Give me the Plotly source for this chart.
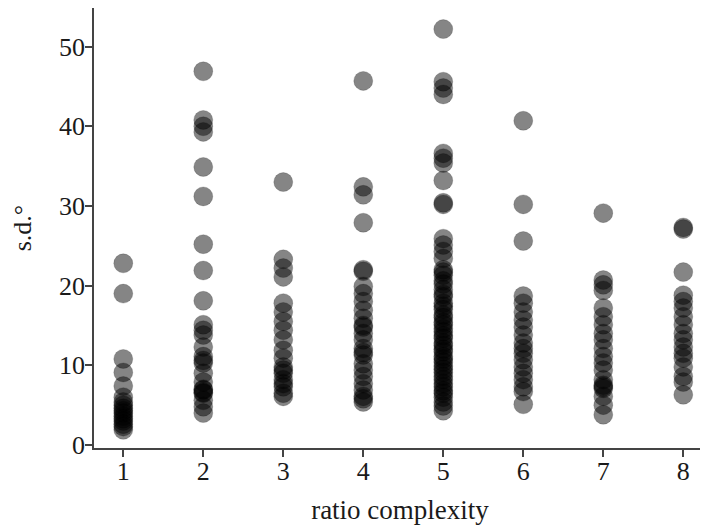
import plotly.graph_objects as go

# ratio complexity categories and s.d. values (degrees)
complexity = [1, 2, 3, 4, 5, 6, 7, 8]

sd_1 = [22.8, 19.0, 10.8, 9.1, 7.4, 6.0, 5.4, 5.0, 4.6, 4.3, 4.0, 3.6, 3.3, 3.0, 2.6, 2.3, 1.9]
sd_2 = [46.9, 40.8, 40.0, 39.3, 34.9, 31.2, 25.2, 21.9, 18.1, 15.1, 14.4, 13.8, 12.3,
        11.1, 10.6, 10.3, 9.0, 7.9, 7.0, 6.9, 6.6, 6.5, 5.6, 4.8, 4.0]
sd_3 = [33.0, 23.3, 22.2, 21.1, 17.8, 16.7, 15.5, 14.4, 13.2, 11.9, 10.9, 9.8, 9.4,
        9.0, 8.2, 7.7, 7.3, 6.5, 6.1]
sd_4 = [45.7, 32.4, 31.4, 27.9, 22.0, 21.8, 19.9, 19.0, 18.0, 16.9, 15.9, 15.0, 14.8,
        14.0, 13.2, 12.1, 11.6, 11.3, 10.2, 9.4, 8.6, 7.7, 6.9, 6.1, 5.8, 5.4]
sd_5 = [52.2, 45.6, 44.8, 44.0, 36.6, 36.0, 35.4, 33.2, 30.4, 30.2, 25.9, 25.1, 24.3,
        23.4, 22.0, 21.7, 21.3, 20.6, 20.2, 19.5, 18.9, 18.6, 17.8, 17.4, 17.0, 16.3,
        16.0, 15.4, 15.1, 14.6, 14.2, 13.7, 13.4, 12.8, 12.5, 12.0, 11.7, 11.1, 10.8,
        10.4, 9.9, 9.5, 9.1, 8.6, 8.2, 7.7, 7.3, 6.8, 6.5, 6.0, 5.4, 4.9, 4.3]
sd_6 = [40.7, 30.2, 25.6, 18.7, 17.8, 16.7, 15.7, 14.8, 13.8, 12.8, 12.1, 11.5, 10.7,
        9.8, 9.0, 8.2, 7.3, 6.7, 5.1]
sd_7 = [29.1, 20.7, 20.1, 19.4, 17.2, 16.1, 15.1, 14.0, 13.2, 12.1, 11.1, 10.3, 9.4,
        8.2, 7.5, 7.3, 7.1, 6.1, 5.0, 3.8]
sd_8 = [27.3, 27.1, 21.7, 18.8, 18.0, 17.2, 16.1, 15.1, 14.0, 13.2, 12.3, 11.5, 10.9,
        9.8, 8.6, 7.9, 6.3]

groups = [sd_1, sd_2, sd_3, sd_4, sd_5, sd_6, sd_7, sd_8]

xs, ys = [], []
for c, vals in zip(complexity, groups):
    xs.extend([c] * len(vals))
    ys.extend(vals)

font_family = "Liberation Serif, Times New Roman, serif"
text_color = "#1a1a1a"

fig = go.Figure()
fig.add_trace(go.Scatter(
    x=xs, y=ys, mode="markers",
    marker=dict(size=19, color="rgba(0,0,0,0.48)",
                line=dict(width=1, color="rgba(0,0,0,0.16)")),
    hoverinfo="skip", showlegend=False,
))

# the page body adds an 8px offset, so the figure is sized 700x521
fig.update_layout(
    width=700, height=521,
    margin=dict(l=86, r=2, t=0, b=81),
    paper_bgcolor="white", plot_bgcolor="white",
    font=dict(family=font_family, size=26, color=text_color),
    xaxis=dict(
        range=[0.634, 8.284], tickmode="array", tickvals=complexity,
        ticktext=[str(c) for c in complexity], automargin=False,
        showgrid=False, zeroline=False, showline=True, linecolor="#444", linewidth=1.5,
        ticks="outside", ticklen=7, tickwidth=1.5, tickcolor="#444",
        ticklabelstandoff=-8,
        tickfont=dict(family=font_family, size=26, color=text_color),
        title=dict(text="ratio complexity", font=dict(family=font_family, size=27, color=text_color),
                   standoff=15),
    ),
    yaxis=dict(
        range=[-0.38, 54.85], tickmode="array", tickvals=[0, 10, 20, 30, 40, 50],
        automargin=False,
        showgrid=False, zeroline=False, showline=True, linecolor="#444", linewidth=1.5,
        ticks="outside", ticklen=7, tickwidth=1.5, tickcolor="#444",
        ticklabelstandoff=-5,
        tickfont=dict(family=font_family, size=26, color=text_color),
        title=dict(text="s.d.°", font=dict(family=font_family, size=26, color=text_color),
                   standoff=21),
    ),
)

fig.write_html("out.html")
